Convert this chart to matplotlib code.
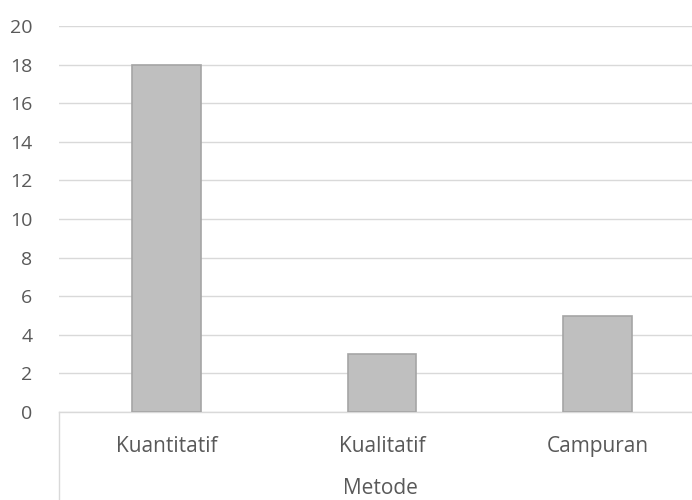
import matplotlib.pyplot as plt
from matplotlib.lines import Line2D

# data
categories = ["Kuantitatif", "Kualitatif", "Campuran"]
values = [18, 3, 5]
yticks = list(range(0, 21, 2))
group_label = "Metode"

plt.rcParams['font.family'] = ['Open Sans', 'DejaVu Sans']

fig = plt.figure(figsize=(6.92, 5.0), dpi=100)
ax = fig.add_axes([59 / 692, 1 - 412 / 500, 646 / 692, 386 / 500])

x = range(len(categories))
ax.bar(x, values, width=0.32, color="#BFBFBF", edgecolor="#A5A5A5", linewidth=1.2, zorder=3)

ax.set_xlim(-0.5, 2.5)
ax.set_ylim(0, 20)
ax.set_yticks(yticks)
ax.set_yticklabels([str(t) for t in yticks], color="#595959", fontsize=14)
ax.set_xticks(list(x))
ax.set_xticklabels(categories, color="#595959", fontsize=15)
ax.tick_params(axis="both", length=0)
ax.tick_params(axis="x", pad=17)
ax.tick_params(axis="y", pad=19)

ax.grid(axis="y", color="#D9D9D9", linewidth=1.0, zorder=0)
for s in ["top", "right", "left"]:
    ax.spines[s].set_visible(False)
ax.spines["bottom"].set_color("#D9D9D9")
ax.spines["bottom"].set_linewidth(1.0)

# multi-level category separator and group label
fig.add_artist(Line2D([59 / 692, 59 / 692], [0, 1 - 412 / 500], color="#D9D9D9", linewidth=1.0))
fig.text(380 / 692, 1 - 489 / 500, group_label, ha="center", va="center", color="#595959", fontsize=15)

fig.savefig("out.png", dpi=100)
